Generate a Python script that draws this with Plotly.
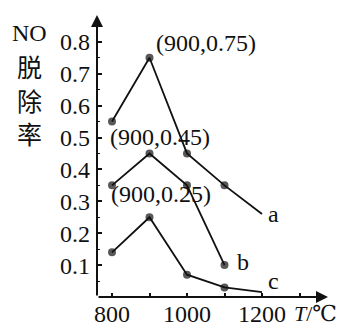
import plotly.graph_objects as go

# data
T_a = [800, 900, 1000, 1100, 1200]
r_a = [0.55, 0.75, 0.45, 0.35, 0.26]
T_b = [800, 900, 1000, 1100]
r_b = [0.35, 0.45, 0.35, 0.10]
T_c = [800, 900, 1000, 1100, 1200]
r_c = [0.14, 0.25, 0.07, 0.03, 0.015]

x_ticks = [800, 1000, 1200]
x_minor = [900, 1100, 1300]
y_ticks = [0.1, 0.2, 0.3, 0.4, 0.5, 0.6, 0.7, 0.8]
y_labels = ["0.1", "0.2", "0.3", "0.4", "0.5", "0.6", "0.7", "0.8"]
y_minor = [0.05, 0.15, 0.25, 0.35, 0.45, 0.55, 0.65, 0.75, 0.85]

peak_labels = [
    ("(900,0.75)", 1051, 0.795),
    ("(900,0.45)", 928, 0.503),
    ("(900,0.25)", 930, 0.322),
]
curve_labels = [("a", 1230, 0.26), ("b", 1148, 0.11), ("c", 1230, 0.05)]

FONT = "Liberation Serif, Times New Roman, DejaVu Serif, serif"
CJK = "Noto Sans CJK SC"
INK = "#111111"

fig = go.Figure()
for xs, ys in [(T_a, r_a), (T_b, r_b), (T_c, r_c)]:
    sizes = [8] * len(xs)
    if xs is not T_b:
        sizes[-1] = 0
    fig.add_trace(go.Scatter(
        x=xs, y=ys, mode="lines+markers",
        line=dict(color=INK, width=1.8),
        marker=dict(color=INK, size=sizes, line=dict(width=0)),
        showlegend=False, cliponaxis=False, hoverinfo="skip",
    ))

X0, X1 = 760, 1376
Y0, Y1 = 0, 0.884

annotations = []
# axis arrows
annotations.append(dict(x=X0, y=Y1, ax=X0, ay=Y0, xref="x", yref="y", axref="x", ayref="y",
                        text="", showarrow=True, arrowhead=2, arrowsize=1.2, arrowwidth=2,
                        arrowcolor=INK, standoff=0))
annotations.append(dict(x=X1, y=Y0, ax=X0, ay=Y0, xref="x", yref="y", axref="x", ayref="y",
                        text="", showarrow=True, arrowhead=2, arrowsize=1.2, arrowwidth=2,
                        arrowcolor=INK, standoff=0))
for txt, x, y in peak_labels:
    annotations.append(dict(x=x, y=y, xref="x", yref="y", text=txt, showarrow=False,
                            xanchor="center", yanchor="middle",
                            font=dict(family=FONT, size=24, color=INK)))
for txt, x, y in curve_labels:
    annotations.append(dict(x=x, y=y, xref="x", yref="y", text=txt, showarrow=False,
                            xanchor="center", yanchor="middle",
                            font=dict(family=FONT, size=24, color=INK)))

# y title stacked (pixel -> paper)
def px(xp):
    return (xp - 97) / 231
def py(yp):
    return (297 - yp) / 282

for txt, yp, fam in [("NO", 33, FONT), ("脱", 66, CJK), ("除", 100, CJK), ("率", 133, CJK)]:
    annotations.append(dict(x=px(29), y=py(yp), xref="paper", yref="paper", text=txt,
                            xanchor="center", yanchor="middle", showarrow=False,
                            font=dict(family=fam, size=24 if txt == "NO" else 25, color=INK)))
annotations.append(dict(x=px(315), y=py(313), xref="paper", yref="paper",
                        text="<i>T</i>/℃", showarrow=False, xanchor="center", yanchor="middle",
                        font=dict(family=FONT, size=22, color=INK)))

fig.update_layout(
    template="none",
    width=342, height=327,
    margin=dict(l=97, r=14, t=15, b=30, autoexpand=False),
    paper_bgcolor="white", plot_bgcolor="white",
    font=dict(family=FONT, size=24, color=INK),
    annotations=annotations,
    xaxis=dict(range=[X0, X1], tickvals=x_ticks, ticks="inside", ticklen=4, tickwidth=1.5,
               tickcolor=INK, showgrid=False, zeroline=False, showline=False, automargin=False,
               minor=dict(tickvals=x_minor, ticks="inside", ticklen=4, tickwidth=1.5, tickcolor=INK),
               tickfont=dict(family=FONT, size=24, color=INK)),
    yaxis=dict(range=[Y0, Y1], tickvals=y_ticks, ticktext=y_labels, ticks="inside", ticklen=5,
               tickwidth=1.5, tickcolor=INK, showgrid=False, zeroline=False, showline=False,
               automargin=False, ticklabelstandoff=6,
               minor=dict(tickvals=y_minor, ticks="inside", ticklen=3, tickwidth=1.2, tickcolor=INK),
               tickfont=dict(family=FONT, size=24, color=INK)),
)

fig.write_html("out.html", config={"displayModeBar": False},
               post_script="document.body.style.margin='0';document.body.style.overflow='hidden';")
